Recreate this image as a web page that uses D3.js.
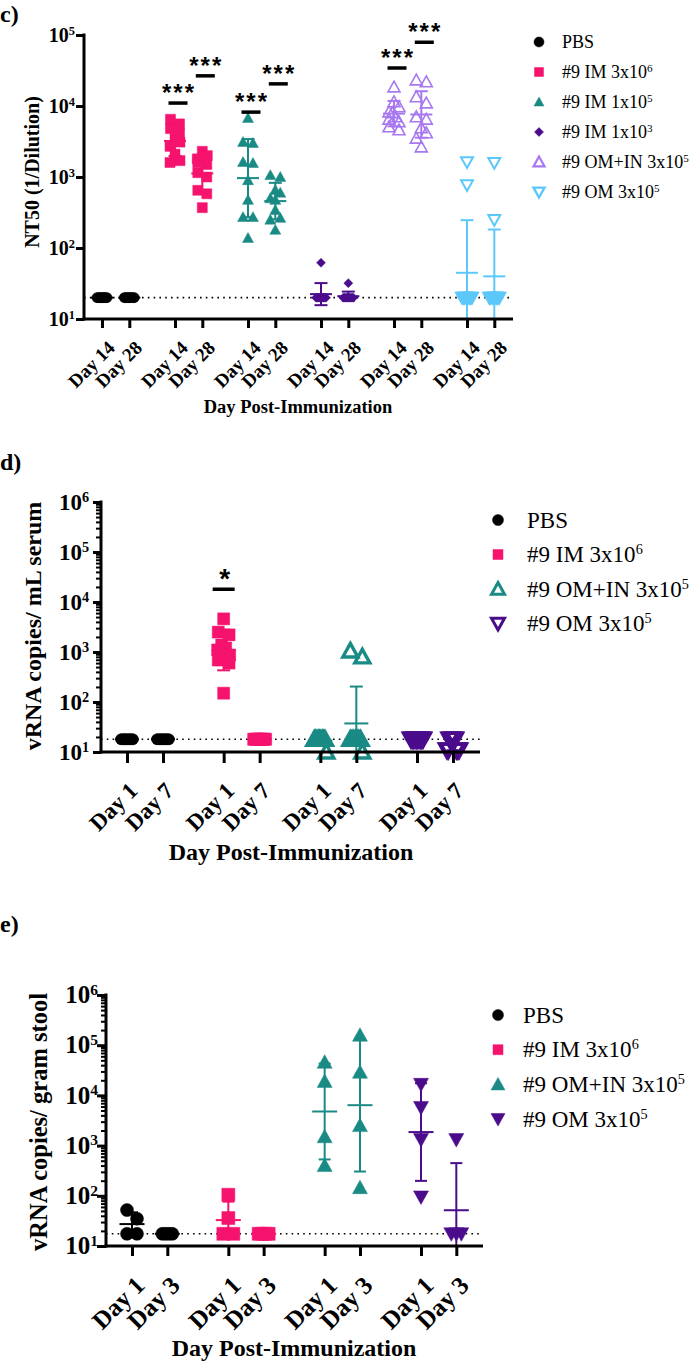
<!DOCTYPE html>
<html><head><meta charset="utf-8">
<script src="https://cdn.jsdelivr.net/npm/d3@7"></script>
<style>body{margin:0;background:#fff} svg{display:block}</style>
</head><body><svg id="chart" width="694" height="1365"></svg>
<script>
// ---------------- DATA ----------------
// Panel c: NT50
const cDays = ["Day 14", "Day 28"];
const cGroups = ["PBS", "#9 IM 3x10", "#9 IM 1x10", "#9 IM 1x10", "#9 OM+IN 3x10", "#9 OM 3x10"];
const cExps = ["", "6", "5", "3", "5", "5"];
const cPBS = [[20,20,20,20,20,20,20,20,20,20],[20,20,20,20,20,20,20,20,20,20]];
const cIM3e6 = [[6500,5600,4800,4100,3500,3100,2700,2100,1700,1600],[2300,2000,1800,1600,1500,1150,1000,650,580,370]];
const cIM1e5 = [[6760,3100,3000,1620,1570,900,475,272,272,138],[1060,1000,656,600,500,475,343,265,250,180]];
const cIM1e3 = [[62,20,20,20,20,20,20,20,20,20],[32,20,20,20,20,20,20,20,20,20]];
const cOMIN = [[18500,11400,9700,8200,8000,7000,6500,5950,5060,4600],[23200,21800,13400,11000,7000,6500,4900,4170,3500,2640]];
const cOM = [[1630,770,20,20,20,20,20,20,20,20],[1590,250,20,20,20,20,20,20,20,20]];
const cSig = [null, [11000, 26600], [8200, 20500], null, [34300, 79000], null];
const cSigText = "***";
const cLOD = 20;
const cYTicks = [1e1, 1e2, 1e3, 1e4, 1e5];

// Panel d: vRNA serum
const dDays = ["Day 1", "Day 7"];
const dGroups = ["PBS", "#9 IM 3x10", "#9 OM+IN 3x10", "#9 OM 3x10"];
const dExps = ["", "6", "5", "5"];
const dPBS = [[18,18,18,18,18,18,18,18,18,18],[18,18,18,18,18,18,18,18,18,18]];
const dIM = [[4600,2500,2200,1380,1200,1100,870,690,600,150],[18,18,18,18,18,18,18,18,18,18]];
const dOMIN = [[18,18,18,18,18,18,18,18,18,10],[1050,800,18,18,18,18,18,18,18,10]];
const dOM = [[18,18,18,18,18,18,18,18,18,18],[18,18,18,18,18,11,11,11,11,11]];
const dSig = [null, [18000, null], null, null];
const dSigText = "*";
const dLOD = 18;
const dYTicks = [1e1, 1e2, 1e3, 1e4, 1e5, 1e6];

// Panel e: vRNA stool
const eDays = ["Day 1", "Day 3"];
const eGroups = ["PBS", "#9 IM 3x10", "#9 OM+IN 3x10", "#9 OM 3x10"];
const eExps = ["", "6", "5", "5"];
const ePBS = [[52,35,17.5,17.5],[17.5,17.5,17.5,17.5]];
const eIM = [[105,36,17.5,17.5],[17.5,17.5,17.5,17.5]];
const eOMIN = [[45700,19000,1500,400],[158000,29000,2500,145]];
const eOM = [[16600,5750,1320,95],[1320,17.5,17.5,17.5]];
const eLOD = 17.5;
const eYTicks = [1e1, 1e2, 1e3, 1e4, 1e5, 1e6];

// ---------------- STYLE ----------------
const SERIF = "'Liberation Serif','Times New Roman',serif";
const SANS = "'Liberation Sans',Arial,sans-serif";
const PINK = "#f5136e", TEAL = "#1a8a84", PURPLE = "#4b0c8c", LAV = "#a878f0", LBLUE = "#5cc8fa";

const svg = d3.select("#chart");

function markerPath(shape, s) {
  const h = s / 2;
  switch (shape) {
    case "circle": return `M${h},0A${h},${h} 0 1,1 ${-h},0A${h},${h} 0 1,1 ${h},0Z`;
    case "square": return `M${-h},${-h}H${h}V${h}H${-h}Z`;
    case "up": return `M0,${-h}L${h},${h * 0.8}L${-h},${h * 0.8}Z`;
    case "down": return `M0,${h}L${h},${-h * 0.8}L${-h},${-h * 0.8}Z`;
    case "diamond": return `M0,${-h}L${h},0L0,${h}L${-h},0Z`;
  }
}

function spread(values, y, size, maxSpan) {
  const pts = values.map((v, i) => ({ i, py: y(Math.max(v, 1e-9)) }));
  pts.sort((a, b) => a.py - b.py);
  const bins = []; let cur = null;
  for (const p of pts) {
    if (cur && p.py - cur.start < size * 0.9) cur.items.push(p);
    else { cur = { start: p.py, items: [p] }; bins.push(cur); }
  }
  const off = new Array(values.length).fill(0);
  for (const b of bins) {
    const n = b.items.length; if (n < 2) continue;
    const s = Math.min(size * 0.9, maxSpan / (n - 1));
    const slots = d3.range(n).map(j => (j - (n - 1) / 2) * s);
    const order = [];
    let lo = Math.floor((n - 1) / 2), hi = lo + 1, turn = 0;
    while (order.length < n) {
      if ((turn % 2 === 0 && lo >= 0) || hi >= n) { order.push(lo--); } else { order.push(hi++); }
      turn++;
    }
    b.items.forEach((p, k) => off[p.i] = slots[order[k]]);
  }
  return off;
}

function supText(sel, base, exp, supScale) {
  sel.append("tspan").text(base);
  if (exp) sel.append("tspan").attr("dy", "-0.55em").attr("font-size", (supScale || 0.65) + "em").text(exp);
}

function drawPanel(cfg) {
  const g = svg.append("g");
  const y = d3.scaleLog().domain([cfg.yMin, cfg.yMax]).range([cfg.yBottom, cfg.yTop]);
  const x = d3.scaleLinear().domain([0, cfg.series.length - 1]).range([cfg.xFirst, cfg.xLast]);
  const slots = [], slotLabels = [];
  cfg.series.forEach((s, gi) => cfg.days.forEach((d, di) => { slots.push(gi + di * cfg.inner); slotLabels.push(d); }));

  // LOD dotted line
  g.append("line").attr("x1", cfg.yAxisX).attr("x2", cfg.xEnd)
    .attr("y1", y(cfg.lod)).attr("y2", y(cfg.lod))
    .attr("stroke", "#000").attr("stroke-width", 1.6).attr("stroke-dasharray", "1.6,4.2");

  // points
  cfg.series.forEach((s, gi) => {
    s.values.forEach((vals, di) => {
      const cx = x(gi + di * cfg.inner);
      const off = spread(vals, y, s.size, cfg.maxSpan);
      g.selectAll(null).data(vals).enter().append("path")
        .attr("d", markerPath(s.shape, s.size))
        .attr("transform", (v, i) => `translate(${cx + off[i]},${y(v)})`)
        .attr("fill", s.open ? "none" : s.color)
        .attr("stroke", s.color)
        .attr("stroke-width", s.open ? s.sw : 0.5);
    });
  });

  // error bars: geometric mean +/- geometric SD
  cfg.series.forEach((s, gi) => {
    s.values.forEach((vals, di) => {
      const cx = x(gi + di * cfg.inner);
      const logs = vals.map(v => Math.log10(v));
      const m = d3.mean(logs), sd = d3.deviation(logs) || 0;
      const top = Math.min(Math.pow(10, m + sd), cfg.yMax);
      const bot = Math.max(Math.pow(10, m - sd), cfg.yMin);
      const eb = g.append("g").attr("stroke", s.color).attr("stroke-width", cfg.ebw).attr("fill", "none");
      eb.append("line").attr("x1", cx).attr("x2", cx).attr("y1", y(top)).attr("y2", y(bot));
      eb.append("line").attr("x1", cx - cfg.capW / 2).attr("x2", cx + cfg.capW / 2).attr("y1", y(top)).attr("y2", y(top));
      eb.append("line").attr("x1", cx - cfg.capW / 2).attr("x2", cx + cfg.capW / 2).attr("y1", y(bot)).attr("y2", y(bot));
      eb.append("line").attr("x1", cx - cfg.meanW / 2).attr("x2", cx + cfg.meanW / 2).attr("y1", y(Math.pow(10, m))).attr("y2", y(Math.pow(10, m)));
    });
  });

  // significance bars
  cfg.sig.forEach((sv, gi) => {
    if (!sv) return;
    sv.forEach((v, di) => {
      if (v == null) return;
      const cx = x(gi + di * cfg.inner) + cfg.sigDx;
      g.append("line").attr("x1", cx - cfg.sigW / 2).attr("x2", cx + cfg.sigW / 2)
        .attr("y1", y(v)).attr("y2", y(v)).attr("stroke", "#000").attr("stroke-width", 3.5);
      g.append("text").attr("x", cx + cfg.sigTx).attr("y", y(v) - cfg.sigGap)
        .attr("text-anchor", "middle").attr("font-family", SANS).attr("font-weight", "bold")
        .attr("font-size", cfg.sigFont).attr("letter-spacing", cfg.sigLS)
        .text(cfg.sigText);
    });
  });

  // x axis (ticks via d3 axis, labels appended as own texts)
  const xAxis = d3.axisBottom(x).tickValues(slots).tickFormat("")
    .tickSize(cfg.xTickLen).tickSizeOuter(0);
  const xa = g.append("g").attr("transform", `translate(0,${cfg.yBottom})`).call(xAxis);
  xa.select(".domain").remove();
  xa.selectAll(".tick text").remove();
  xa.selectAll(".tick line").attr("stroke", "#000").attr("stroke-width", 3);
  slots.forEach((sl, i) => {
    g.append("text")
      .attr("transform", `translate(${x(sl) + cfg.xLabDx},${cfg.yBottom + cfg.xLabDy}) rotate(-45)`)
      .attr("text-anchor", "end")
      .style("font-family", SERIF).style("font-weight", "bold").style("font-size", cfg.xTickFont + "px")
      .attr("fill", "#000")
      .text(slotLabels[i]);
  });
  g.append("line").attr("x1", cfg.yAxisX - 1.5).attr("x2", cfg.xEnd).attr("y1", cfg.yBottom).attr("y2", cfg.yBottom)
    .attr("stroke", "#000").attr("stroke-width", 3);

  // y axis
  const yAxis = d3.axisLeft(y).tickValues(cfg.yTicks).tickSize(cfg.yTickLen).tickSizeOuter(0).tickFormat("");
  const ya = g.append("g").attr("transform", `translate(${cfg.yAxisX},0)`).call(yAxis);
  ya.select(".domain").remove();
  ya.selectAll(".tick text").remove();
  ya.selectAll(".tick line").attr("stroke", "#000").attr("stroke-width", 3);
  if (cfg.minor) {
    const minors = [];
    cfg.yTicks.slice(0, -1).forEach(t => d3.range(2, 10).forEach(k => minors.push(t * k)));
    const ym = g.append("g").attr("transform", `translate(${cfg.yAxisX},0)`)
      .call(d3.axisLeft(y).tickValues(minors).tickSize(cfg.minorLen).tickSizeOuter(0).tickFormat(""));
    ym.select(".domain").remove();
    ym.selectAll(".tick text").remove();
    ym.selectAll(".tick line").attr("stroke", "#000").attr("stroke-width", 2);
  }
  g.append("line").attr("x1", cfg.yAxisX).attr("x2", cfg.yAxisX).attr("y1", cfg.yTop - 1.5).attr("y2", cfg.yBottom + 1.5)
    .attr("stroke", "#000").attr("stroke-width", 3);
  cfg.yTicks.forEach(t => {
    const tx = g.append("text").attr("x", cfg.yAxisX - cfg.yLabGap).attr("y", y(t) + cfg.yTickFont * 0.33)
      .attr("text-anchor", "end").attr("font-family", SERIF).attr("font-weight", "bold")
      .attr("font-size", cfg.yTickFont);
    supText(tx, "10", String(Math.round(Math.log10(t))), 0.62);
  });

  // titles
  g.append("text").attr("x", cfg.xTitle[0]).attr("y", cfg.xTitle[1]).attr("text-anchor", "middle")
    .attr("font-family", SERIF).attr("font-weight", "bold").attr("font-size", cfg.xTitleFont)
    .text("Day Post-Immunization");
  g.append("text").attr("transform", `translate(${cfg.yTitle[0]},${cfg.yTitle[1]}) rotate(-90)`)
    .attr("text-anchor", "middle").attr("font-family", SERIF).attr("font-weight", "bold")
    .attr("font-size", cfg.yTitleFont).text(cfg.yTitleText);

  // panel label
  g.append("text").attr("x", cfg.label[1]).attr("y", cfg.label[2]).attr("font-family", SERIF)
    .attr("font-weight", "bold").attr("font-size", 24).text(cfg.label[0]);

  // legend
  cfg.series.forEach((s, i) => {
    const ly = cfg.legY + i * cfg.legStep;
    g.append("path").attr("d", markerPath(s.shape, s.legSize))
      .attr("transform", `translate(${cfg.legX},${ly})`)
      .attr("fill", s.legOpen ? "none" : s.color).attr("stroke", s.color)
      .attr("stroke-width", s.legOpen ? s.legSw : 0.5);
    const t = g.append("text").attr("x", cfg.legTextX).attr("y", ly + cfg.legFont * 0.33)
      .attr("font-family", SERIF).attr("font-size", cfg.legFont).attr("fill", "#000");
    supText(t, s.name, s.exp, 0.62);
  });
}

// ---------------- PANEL C ----------------
drawPanel({
  label: ["c)", 0, 22],
  yMin: 10, yMax: 1e5, yTop: 35, yBottom: 319, yAxisX: 84, yTicks: cYTicks, minor: false,
  xFirst: 102, xLast: 467, inner: 27.3 / 73, xEnd: 513, lod: cLOD, maxSpan: 10,
  days: cDays,
  series: [
    { name: cGroups[0], exp: cExps[0], values: cPBS, color: "#000", shape: "circle", size: 10, legSize: 10 },
    { name: cGroups[1], exp: cExps[1], values: cIM3e6, color: PINK, shape: "square", size: 10, legSize: 9 },
    { name: cGroups[2], exp: cExps[2], values: cIM1e5, color: TEAL, shape: "up", size: 11, legSize: 10 },
    { name: cGroups[3], exp: cExps[3], values: cIM1e3, color: PURPLE, shape: "diamond", size: 9, legSize: 9 },
    { name: cGroups[4], exp: cExps[4], values: cOMIN, color: LAV, shape: "up", size: 12, open: true, sw: 1.6, legSize: 11, legOpen: true, legSw: 2.2 },
    { name: cGroups[5], exp: cExps[5], values: cOM, color: LBLUE, shape: "down", size: 12, open: true, sw: 2, legSize: 11, legOpen: true, legSw: 2.4 }
  ],
  ebw: 2, capW: 13, meanW: 22,
  sig: cSig, sigText: cSigText, sigW: 19, sigDx: 3, sigTx: 1, sigGap: 2, sigFont: 24, sigLS: 2,
  xTickLen: 9, xLabDx: 14, xLabDy: 30, xTickFont: 19,
  yTickLen: 8, yLabGap: 9, yTickFont: 20,
  xTitle: [298, 413], xTitleFont: 18.5, yTitle: [39, 172], yTitleFont: 20, yTitleText: "NT50 (1/Dilution)",
  legX: 539, legY: 42, legStep: 30, legTextX: 562, legFont: 18
});

// ---------------- PANEL D ----------------
drawPanel({
  label: ["d)", 0, 470],
  yMin: 10, yMax: 1e6, yTop: 502, yBottom: 752, yAxisX: 101, yTicks: dYTicks, minor: true, minorLen: 5,
  xFirst: 127, xLast: 417, inner: 36 / 96.7, xEnd: 480, lod: dLOD, maxSpan: 12,
  days: dDays,
  series: [
    { name: dGroups[0], exp: dExps[0], values: dPBS, color: "#000", shape: "circle", size: 11, legSize: 11 },
    { name: dGroups[1], exp: dExps[1], values: dIM, color: PINK, shape: "square", size: 12, legSize: 10 },
    { name: dGroups[2], exp: dExps[2], values: dOMIN, color: TEAL, shape: "up", size: 15, open: true, sw: 3.4, legSize: 13, legOpen: true, legSw: 3 },
    { name: dGroups[3], exp: dExps[3], values: dOM, color: PURPLE, shape: "down", size: 15, open: true, sw: 3.4, legSize: 13, legOpen: true, legSw: 3 }
  ],
  ebw: 2, capW: 13, meanW: 24,
  sig: dSig, sigText: dSigText, sigW: 22, sigDx: 0, sigTx: 1, sigGap: 1, sigFont: 28, sigLS: 0,
  xTickLen: 11, xLabDx: 12, xLabDy: 40, xTickFont: 23,
  yTickLen: 8, yLabGap: 12, yTickFont: 23,
  xTitle: [291, 860], xTitleFont: 24, yTitle: [41, 626], yTitleFont: 24, yTitleText: "vRNA copies/ mL serum",
  legX: 498, legY: 520, legStep: 34.5, legTextX: 527, legFont: 23
});

// ---------------- PANEL E ----------------
drawPanel({
  label: ["e)", 0, 932],
  yMin: 10, yMax: 1e6, yTop: 995, yBottom: 1246, yAxisX: 106, yTicks: eYTicks, minor: true, minorLen: 5,
  xFirst: 132, xLast: 421, inner: 35.3 / 96.3, xEnd: 483, lod: eLOD, maxSpan: 10,
  days: eDays,
  series: [
    { name: eGroups[0], exp: eExps[0], values: ePBS, color: "#000", shape: "circle", size: 13, legSize: 11 },
    { name: eGroups[1], exp: eExps[1], values: eIM, color: PINK, shape: "square", size: 13, legSize: 10 },
    { name: eGroups[2], exp: eExps[2], values: eOMIN, color: TEAL, shape: "up", size: 15, legSize: 14 },
    { name: eGroups[3], exp: eExps[3], values: eOM, color: PURPLE, shape: "down", size: 15, legSize: 14 }
  ],
  ebw: 2, capW: 12, meanW: 25,
  sig: [null, null, null, null], sigText: "", sigW: 0, sigDx: 0, sigTx: 0, sigGap: 0, sigFont: 24, sigLS: 0,
  xTickLen: 10, xLabDx: 14, xLabDy: 41, xTickFont: 25,
  yTickLen: 9, yLabGap: 8, yTickFont: 25,
  xTitle: [294, 1356], xTitleFont: 24, yTitle: [47, 1122], yTitleFont: 24.5, yTitleText: "vRNA copies/ gram stool",
  legX: 498, legY: 1015, legStep: 34.7, legTextX: 523, legFont: 23
});
</script></body></html>
